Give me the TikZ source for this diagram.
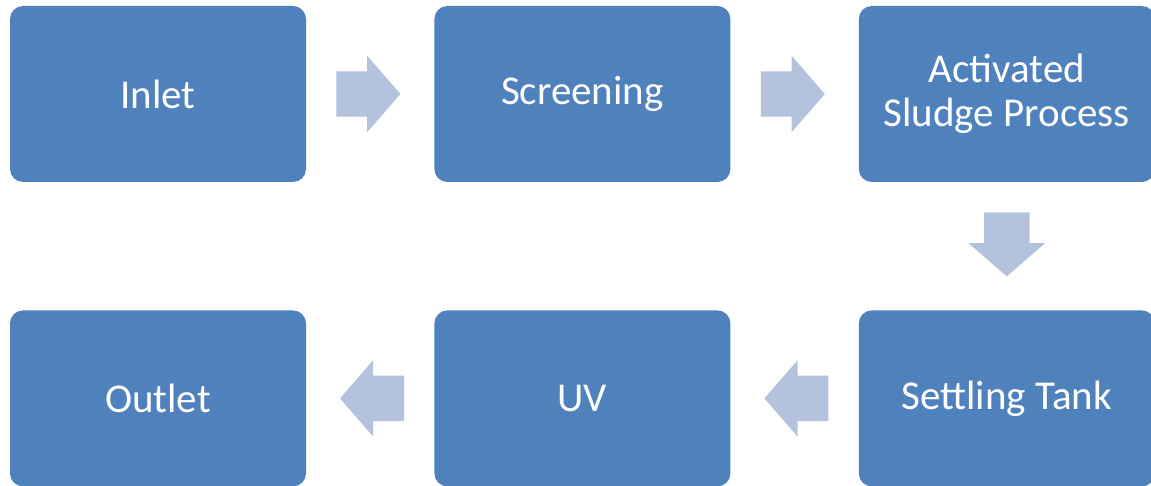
\documentclass[tikz,border=0pt]{standalone}
\usepackage{fontspec}
\setmainfont{Carlito}
\usetikzlibrary{positioning,calc,shapes.arrows}
\definecolor{stageblue}{HTML}{4F81BD}
\definecolor{flowblue}{HTML}{B3C3DE}
\begin{document}
\begin{tikzpicture}[x=1pt, y=1pt, node distance=128pt,
        stage/.style={fill=stageblue, rounded corners=13pt, minimum width=296pt, minimum height=176pt,
            inner sep=0pt, align=center, text=white, font=\fontsize{41}{44}\selectfont},
        flow/.style={single arrow, fill=flowblue, inner xsep=0pt, inner ysep=22.5pt, minimum height=64pt,
            single arrow head extend=15.5pt, single arrow tip angle=98, anchor=tail}]
        \useasboundingbox (0,0) rectangle (1151,-486);

        % Define Nodes
        \node (inlet) [stage] at (158,-94) {Inlet};
        \node (screening) [stage, right=of inlet] {Screening};
        \node (sludge) [stage, right=of screening] {Activated\\Sludge Process};
        \node (settling) [stage, below=of sludge] {Settling Tank};
        \node (uv) [stage, left=of settling] {UV};
        \node (outlet) [stage, left=of uv] {Outlet};

        % Draw Arrows
        \node (a1) [flow] at ($(inlet)!0.5!(screening)+(-34,0)$) {};
        \node (a2) [flow] at ($(screening)!0.5!(sludge)+(-34,0)$) {};
        \node (a3) [flow, rotate=-90] at ($(sludge)!0.5!(settling)+(0,34)$) {};
        \node (a4) [flow, rotate=180] at ($(settling)!0.5!(uv)+(34,0)$) {};
        \node (a5) [flow, rotate=180] at ($(uv)!0.5!(outlet)+(34,0)$) {};
    \end{tikzpicture}
\end{document}
